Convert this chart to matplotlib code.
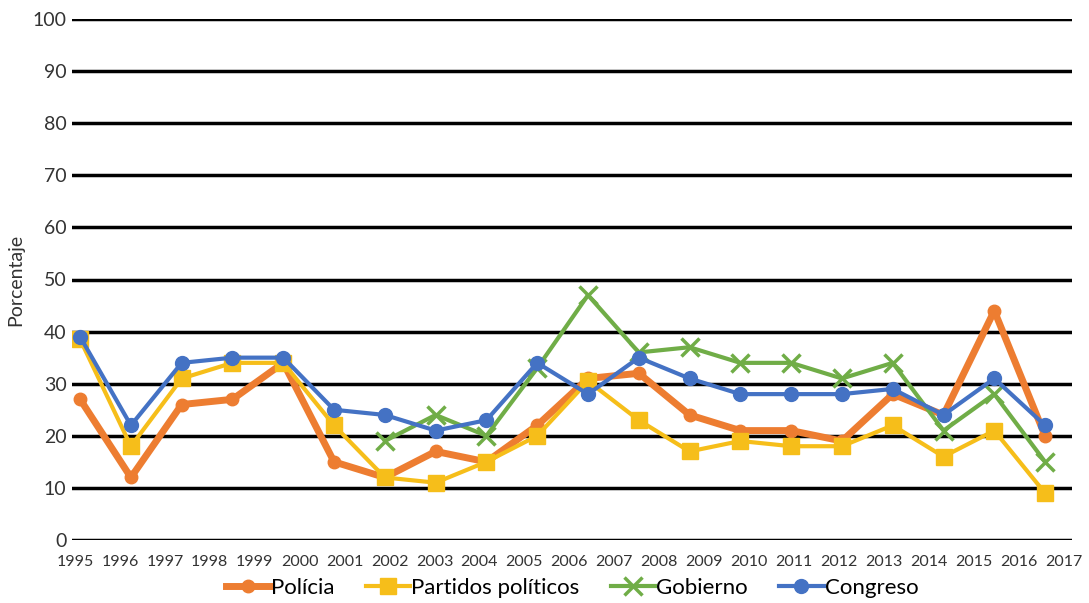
import numpy as np
import matplotlib.pyplot as plt

plt.rcParams['font.family'] = ['Lato', 'DejaVu Sans']

# Data
years = [str(y) for y in range(1995, 2018)]
n_points = 20
policia = [27, 12, 26, 27, 34, 15, 12, 17, 15, 22, 31, 32, 24, 21, 21, 19, 28, 24, 44, 20]
partidos = [38.5, 18, 31, 34, 34, 22, 12, 11, 15, 20, 30.5, 23, 17, 19, 18, 18, 22, 16, 21, 9]
gobierno = [np.nan] * 6 + [19, 24, 20, 33, 47, 36, 37, 34, 34, 31, 34, 21, 28, 15]
congreso = [39, 22, 34, 35, 35, 25, 24, 21, 23, 34, 28, 35, 31, 28, 28, 28, 29, 24, 31, 22]

fig = plt.figure(figsize=(10.89, 6.03), dpi=100)
ax = fig.add_axes([72 / 1089, 63 / 603, 1000 / 1089, 521 / 603])

x = np.arange(n_points)
ax.plot(x, policia, color='#ED7D31', lw=5, marker='o', ms=9, label='Polícia')
ax.plot(x, partidos, color='#F6BE1A', lw=3, marker='s', ms=11, label='Partidos políticos')
ax.plot(x, gobierno, color='#70AD47', lw=3, marker='x', ms=13, mew=2.5, label='Gobierno')
ax.plot(x, congreso, color='#4472C4', lw=3, marker='o', ms=10, label='Congreso')

ax.set_ylim(0, 100)
ax.set_xlim(-0.16, 19.53)
ax.set_yticks(range(0, 101, 10))
ax.yaxis.grid(True, color='black', lw=2.5)
ax.set_axisbelow(True)
for s in ax.spines.values():
    s.set_visible(False)
ax.tick_params(axis='y', length=0, labelsize=14, pad=4, labelcolor='#333333')
ax.set_xticks([])
ax.set_ylabel('Porcentaje', fontsize=14, labelpad=6, color='#333333')

# year labels spread across the axis width
for i, yr in enumerate(years):
    ax.text(0.003 + i * 0.9885 / (len(years) - 1), -0.028, yr, transform=ax.transAxes,
            ha='center', va='top', fontsize=11.5, color='#333333')

ax.legend(loc='upper center', bbox_to_anchor=(0.5, -0.073), ncol=4, frameon=False,
          fontsize=16, handlelength=2.0, handletextpad=0.05, columnspacing=1.4,
          borderaxespad=0, borderpad=0)

plt.savefig('out.png', dpi=100)
